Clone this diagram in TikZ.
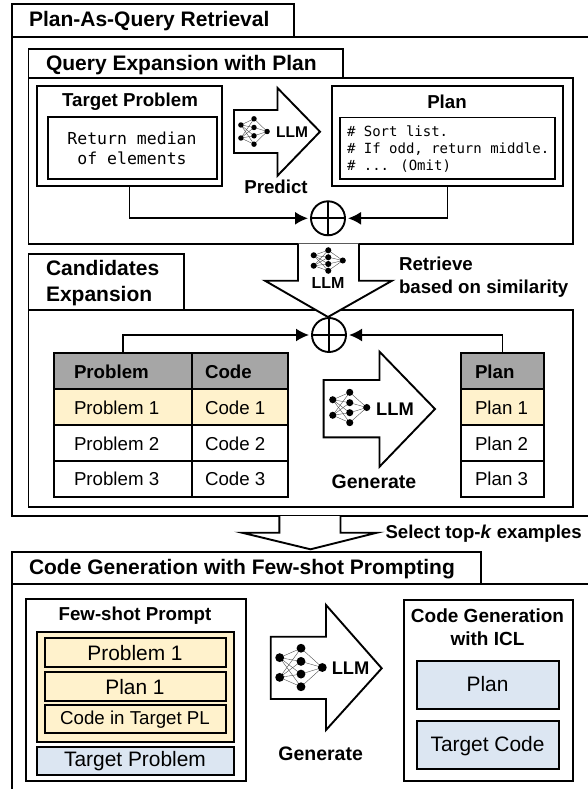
\documentclass[tikz,border=0pt]{standalone}
\usepackage{fontspec}
\setmainfont{Liberation Sans}
\newfontfamily\codefont{DejaVu Sans Mono}
\usetikzlibrary{arrows.meta}
\definecolor{hdr}{HTML}{A6A6A6}
\definecolor{ylw}{HTML}{FFF2CC}
\definecolor{blu}{HTML}{DCE6F2}
\tikzset{
  frame/.style={draw=black,line width=1.9pt,fill=white,inner sep=0pt,outer sep=0pt},
  yframe/.style={frame,fill=ylw},
  bframe/.style={frame,fill=blu},
  hframe/.style={frame,fill=hdr},
  lab/.style={inner sep=0pt,outer sep=0pt,text=black},
  btitle/.style={lab,font=\fontsize{21}{26}\selectfont\bfseries},
  bsub/.style={lab,font=\fontsize{18.7}{22.5}\selectfont\bfseries},
  rsmall/.style={lab,font=\fontsize{18.7}{22}\selectfont},
  rbig/.style={lab,font=\fontsize{20.9}{25}\selectfont},
  llm/.style={lab,font=\fontsize{#1}{#1}\selectfont\bfseries},
  conn/.style={draw=black,line width=1.9pt,-{Latex[length=13pt,width=13pt]},shorten >=3pt},
  blockarrow/.style={draw=black,line width=1.9pt,fill=white,line join=miter,miter limit=10},
  sumnode/.style={circle,draw=black,line width=1.9pt,fill=white,minimum size=34pt,inner sep=0pt,outer sep=0pt},
}
\newcommand{\bx}[7][frame]{%
  \pgfmathsetmacro{\bxw}{#5-#3}\pgfmathsetmacro{\bxh}{#6-#4}%
  \pgfmathsetmacro{\bxx}{(#3+#5)/2}\pgfmathsetmacro{\bxy}{(#4+#6)/2}%
  \node[#1,minimum width=\bxw pt,minimum height=\bxh pt] (#2) at (\bxx,\bxy) {#7};}
\newcommand{\netic}[4]{%
  \pgfmathsetmacro{\nw}{#3-#1}\pgfmathsetmacro{\nh}{#4-#2}%
  \pgfmathsetmacro{\nr}{\nw*0.085}%
  \begin{scope}[shift={(#1,#2)},x=\nw pt,y=-\nh pt]
    \foreach \a in {.29,.71}{\foreach \b in {.09,.37,.64,.91}{\draw[line width=.35pt,black!75] (.09,\a)--(.5,\b);}}
    \foreach \b in {.09,.37,.64,.91}{\draw[line width=.35pt,black!75] (.5,\b)--(.91,.5);}
    \foreach \a/\b in {.09/.29,.09/.71,.5/.09,.5/.37,.5/.64,.5/.91,.91/.5}{\fill[black] (\a,\b) circle[radius=\nr pt];}
  \end{scope}}
\begin{document}
\begin{tikzpicture}[x=1pt,y=-1pt]
\useasboundingbox (0,0) rectangle (588,789);
\clip (0,0) rectangle (588,789);
\fill[white] (0,0) rectangle (588,789);
% Plan-as-query retrieval
\bx{tabA}{12}{37}{600}{516}{}
\bx{tabAt}{12}{4}{294}{37}{}
\node[btitle,anchor=west] (tA) at (29,21) {Plan-As-Query Retrieval};
% Query expansion
\bx{boxB}{28.5}{78}{572.6}{243.7}{}
\bx{tabB}{28.5}{49}{343}{78}{}
\node[btitle,anchor=west] (tB) at (46,65) {Query Expansion with Plan};
\bx{tpo}{37}{86}{222}{186}{}
\node[bsub] (tpl) at (130,101.7) {Target Problem};
\bx{tpi}{47.6}{117}{217}{178.7}{}
\node[lab,align=center,font=\fontsize{16.5}{20}\selectfont\codefont] (tpc) at (132,148) {Return median\\of elements};
\bx{plo}{332}{86}{563}{186}{}
\node[bsub] (pll) at (447,101.7) {Plan};
\bx{pli}{340}{117.5}{555}{178.7}{}
\node[lab,align=left,anchor=west,font=\fontsize{14}{17}\selectfont\codefont] (plc) at (347,148.7) {\# Sort list.\\\# If odd, return middle.\\\# ... (Omit)};
\draw[blockarrow] (234,110)--(277.5,110)--(277.5,88)--(320,131.7)--(277.5,175.7)--(277.5,153)--(234,153)--cycle;
\netic{238}{116}{270}{147}
\node[llm=15.5] (l1) at (292,131.7) {LLM};
\node[bsub] (pr) at (276,186.7) {Predict};
\node[sumnode] (s1) at (328,218.3) {};
\draw[line width=1.9pt] (s1.north)--(s1.south) (s1.west)--(s1.east);
\draw[conn] (tpo.south) |- (s1.west);
\draw[conn] (plo.south) |- (s1.east);
% Candidates expansion
\bx{boxC}{28.5}{309.7}{572.6}{506.7}{}
\bx{tabC}{28.5}{254.3}{184}{309.7}{}
\node[btitle,align=left,anchor=west] (tC) at (46,283) {Candidates\\Expansion};
\draw[blockarrow] (298,243.7)--(298,280.7)--(265,280.7)--(328,317)--(392,280.7)--(359,280.7)--(359,243.7);
\netic{310.5}{248}{346}{273}
\node[llm=16] (l2) at (328,283.3) {LLM};
\node[bsub,align=left,anchor=west] (rt) at (399,277) {Retrieve\\based on similarity};
% tables
\bx[hframe]{h1}{53.6}{353}{191.6}{388.7}{}
\bx[hframe]{h2}{191.6}{353}{288}{388.7}{}
\bx[yframe]{a1}{53.6}{388.7}{191.6}{424.7}{}
\bx[yframe]{b1}{191.6}{388.7}{288}{424.7}{}
\bx{a2}{53.6}{424.7}{191.6}{460.7}{}
\bx{b2}{191.6}{424.7}{288}{460.7}{}
\bx{a3}{53.6}{460.7}{191.6}{497}{}
\bx{b3}{191.6}{460.7}{288}{497}{}
\bx[hframe]{h3}{461}{353}{544}{388.7}{}
\bx[yframe]{c1}{461}{388.7}{544}{424.7}{}
\bx{c2}{461}{424.7}{544}{460.7}{}
\bx{c3}{461}{460.7}{544}{497}{}
\node[bsub,anchor=west] (th1) at (74,371.7) {Problem};
\node[bsub,anchor=west] (th2) at (205,371.7) {Code};
\node[bsub,anchor=west] (th3) at (475,371.7) {Plan};
\node[rsmall,anchor=west] (ta1) at (74,407.7) {Problem 1};
\node[rsmall,anchor=west] (ta2) at (74,443.7) {Problem 2};
\node[rsmall,anchor=west] (ta3) at (74,479.3) {Problem 3};
\node[rsmall,anchor=west] (tb1) at (205,407.7) {Code 1};
\node[rsmall,anchor=west] (tb2) at (205,443.7) {Code 2};
\node[rsmall,anchor=west] (tb3) at (205,479.3) {Code 3};
\node[rsmall,anchor=west] (tc1) at (475,407.7) {Plan 1};
\node[rsmall,anchor=west] (tc2) at (475,443.7) {Plan 2};
\node[rsmall,anchor=west] (tc3) at (475,479.3) {Plan 3};
\node[sumnode] (s2) at (329,335) {};
\draw[line width=1.9pt] (s2.north)--(s2.south) (s2.west)--(s2.east);
\draw[conn] (h1.north) |- (s2.west);
\draw[conn] (h3.north) |- (s2.east);
\draw[blockarrow] (323.6,380)--(379.5,380)--(379.5,351.7)--(435,409)--(379.5,466.7)--(379.5,437.3)--(323.6,437.3)--cycle;
\netic{329}{389}{370.5}{426}
\node[llm=18.3] (l3) at (395,409) {LLM};
\node[lab,font=\fontsize{19.5}{24}\selectfont\bfseries] (g1) at (374,481.7) {Generate};
% select arrow
\draw[blockarrow] (279.4,516)--(279.4,532.7)--(242,532.7)--(310.5,549.3)--(377,532.7)--(340.5,532.7)--(340.5,516);
\node[lab,font=\fontsize{18.6}{24}\selectfont\bfseries,anchor=west] (sel) at (385.5,534) {Select top-\textit{k} examples};
% Code generation
\bx{boxD}{12}{584}{600}{800}{}
\bx{tabD}{12}{551.7}{481}{584}{}
\node[btitle,anchor=west] (tD) at (29,569.3) {Code Generation with Few-shot Prompting};
\bx{fso}{26}{599.3}{245.6}{780.7}{}
\node[bsub] (fst) at (135,616) {Few-shot Prompt};
\bx[yframe]{fsy}{37}{631.7}{233.6}{741.7}{}
\bx[yframe]{fs1}{45}{638.3}{226}{666.7}{}
\node[rbig] (fs1t) at (135,652.7) {Problem 1};
\bx[yframe]{fs2}{45}{672.3}{226}{700.7}{}
\node[rbig] (fs2t) at (135,686.7) {Plan 1};
\bx[yframe]{fs3}{45}{705}{226}{733.3}{}
\node[rsmall] (fs3t) at (135,719.3) {Code in Target PL};
\bx[bframe]{fs4}{37}{746.7}{233.6}{775}{}
\node[rbig] (fs4t) at (135,761) {Target Problem};
\draw[blockarrow] (270.7,636.7)--(326,636.7)--(326,605)--(381.7,668.3)--(326,730)--(326,699)--(270.7,699)--cycle;
\netic{275}{644}{327}{691}
\node[llm=18.3] (l4) at (350.6,668) {LLM};
\node[lab,font=\fontsize{19.5}{24}\selectfont\bfseries] (g2) at (320.6,754) {Generate};
\bx{cgo}{404}{600}{572.6}{780.7}{}
\node[lab,align=center,font=\fontsize{19}{22.5}\selectfont\bfseries] (cgt) at (487.5,627) {Code Generation\\with ICL};
\bx[bframe]{cg1}{417.4}{660.7}{558.7}{708.7}{}
\node[rbig] (cg1t) at (487.5,684) {Plan};
\bx[bframe]{cg2}{417.4}{721.3}{558.7}{769.3}{}
\node[rbig] (cg2t) at (487.5,745.7) {Target Code};
\end{tikzpicture}
\end{document}
